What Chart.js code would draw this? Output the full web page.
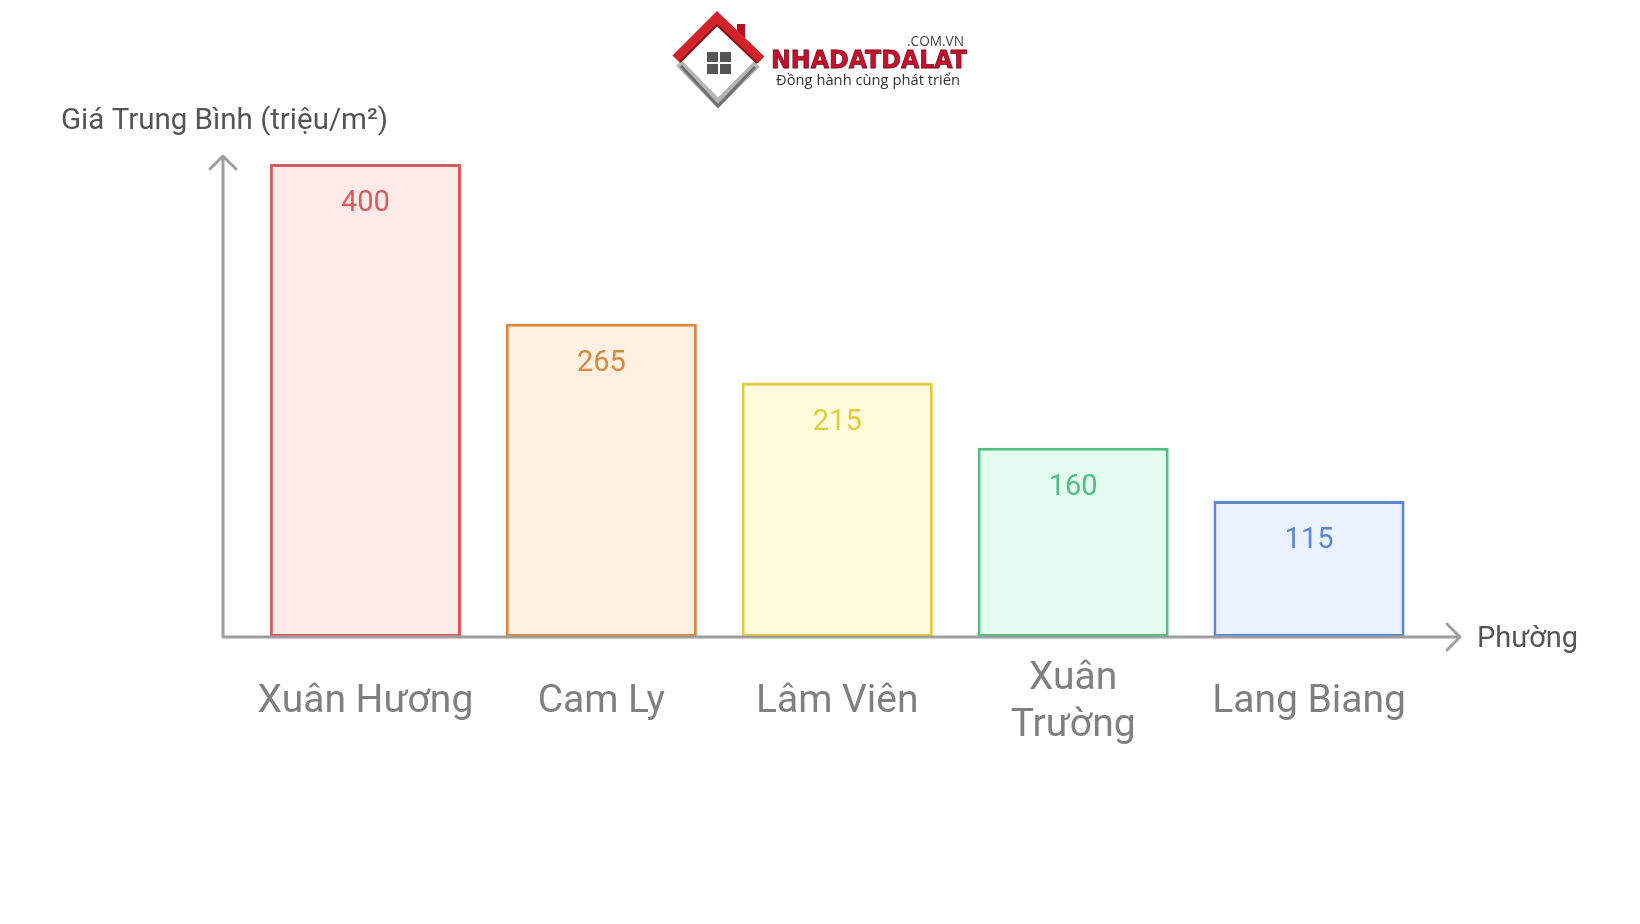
<!DOCTYPE html>
<html>
<head>
<meta charset="utf-8">
<script src="https://cdn.jsdelivr.net/npm/chart.js@4.4.1/dist/chart.umd.min.js"></script>
<style>
  html, body { margin: 0; padding: 0; background: #ffffff; }
  #wrap { position: relative; width: 1640px; height: 924px; overflow: hidden; }
  #c { position: absolute; left: 0; top: 0; }
  #logo { position: absolute; left: 0; top: 0; }
</style>
</head>
<body>
<div id="wrap">
  <canvas id="c" width="1640" height="924"></canvas>
  <svg id="logo" width="1640" height="130" viewBox="0 0 1640 130" xmlns="http://www.w3.org/2000/svg">
    <!-- diamond house logo -->
    <polygon points="717,18 760,60 718,104 676,60" fill="#ffffff"/>
    <polyline points="679,63 718,103 757,64" fill="none" stroke="#b5b5b5" stroke-width="8" stroke-linejoin="miter"/>
    <polyline points="681,66 718,106 755,67" fill="none" stroke="#6f6f6f" stroke-width="3" stroke-linejoin="miter"/>
    <rect x="737" y="24" width="8" height="16" fill="#b5121b"/>
    <polyline points="676,59 717,18 761,60" fill="none" stroke="#d2232a" stroke-width="10" stroke-linejoin="miter"/>
    <polyline points="680,62 717,25 757,63" fill="none" stroke="#8e0f14" stroke-width="2" stroke-linejoin="miter"/>
    <rect x="707" y="52" width="11" height="10" fill="#555"/>
    <rect x="720" y="52" width="11" height="10" fill="#555"/>
    <rect x="707" y="64" width="11" height="10" fill="#555"/>
    <rect x="720" y="64" width="11" height="10" fill="#555"/>
    <text x="907" y="46" font-family="Open Sans, Roboto, sans-serif" font-size="14" fill="#444" textLength="57" lengthAdjust="spacingAndGlyphs">.COM.VN</text>
    <text x="771" y="68" font-family="DejaVu Sans, sans-serif" font-weight="bold" font-size="25" fill="#c8102e" stroke="#7a0a12" stroke-width="0.8" textLength="196" lengthAdjust="spacingAndGlyphs">NHADATDALAT</text>
    <text x="776" y="85" font-family="Open Sans, Roboto, sans-serif" font-size="15" fill="#333" textLength="184" lengthAdjust="spacingAndGlyphs">Đồng hành cùng phát triển</text>
  </svg>
</div>
<script>
// ---- data ----
const categories = ['Xuân Hương', 'Cam Ly', 'Lâm Viên', ['Xuân', 'Trường'], 'Lang Biang'];
const values = [400, 265, 215, 160, 115];
const borderColors = ['#d95c5c', '#d98a3e', '#e3cc34', '#4fbf85', '#5b87d6'];
const fillColors = ['#ffeaea', '#fff0e2', '#fffbdc', '#e3fcef', '#eaf2ff'];
const yAxisTitle = 'Giá Trung Bình (triệu/m²)';
const xAxisTitle = 'Phường';

Chart.defaults.font.family = 'Roboto, "Noto Sans", sans-serif';

const axesPlugin = {
  id: 'arrowAxes',
  afterDatasetsDraw(chart) {
    const { ctx, chartArea: a, scales: { y } } = chart;
    const x0 = a.left - 24.5;
    const y0 = y.getPixelForValue(0);
    const topY = a.top - 8;
    const rightX = a.right + 33;
    ctx.save();
    ctx.strokeStyle = '#9e9e9e';
    ctx.lineWidth = 3;
    ctx.lineCap = 'round';
    ctx.lineJoin = 'round';
    ctx.beginPath();
    ctx.moveTo(x0, y0); ctx.lineTo(x0, topY);
    ctx.moveTo(x0 - 13, topY + 13); ctx.lineTo(x0, topY); ctx.lineTo(x0 + 13, topY + 13);
    ctx.moveTo(x0, y0); ctx.lineTo(rightX, y0);
    ctx.moveTo(rightX - 13, y0 - 13); ctx.lineTo(rightX, y0); ctx.lineTo(rightX - 13, y0 + 13);
    ctx.stroke();

    // x axis name
    ctx.fillStyle = '#555555';
    ctx.font = '29px Roboto, sans-serif';
    ctx.textAlign = 'left';
    ctx.textBaseline = 'middle';
    ctx.fillText(xAxisTitle, rightX + 17, y0 + 3);

    // value labels
    const meta = chart.getDatasetMeta(0);
    ctx.textAlign = 'center';
    meta.data.forEach((bar, i) => {
      ctx.fillStyle = borderColors[i];
      ctx.fillText(String(values[i]), bar.x, bar.y + 40);
    });
    ctx.restore();
  }
};

new Chart(document.getElementById('c'), {
  type: 'bar',
  data: {
    labels: categories,
    datasets: [{
      data: values,
      backgroundColor: fillColors,
      borderColor: borderColors,
      borderWidth: 3,
      borderSkipped: false,
      barPercentage: 0.81,
      categoryPercentage: 1.0
    }]
  },
  options: {
    responsive: false,
    animation: false,
    devicePixelRatio: 1,
    layout: { padding: { left: 61, right: 213, top: 0, bottom: 0 } },
    plugins: {
      legend: { display: false },
      tooltip: { enabled: false },
      title: {
        display: true,
        text: yAxisTitle,
        align: 'start',
        color: '#555555',
        font: { size: 29.5, weight: 'normal', lineHeight: 1.2 },
        padding: { top: 104, bottom: 24.6 }
      }
    },
    scales: {
      x: {
        grid: { display: false, drawTicks: false },
        border: { display: false },
        ticks: {
          color: '#808080',
          font: { size: 39, lineHeight: 1.2 },
          padding: 42,
          crossAlign: 'center',
          maxRotation: 0,
          autoSkip: false
        },
        afterFit(scale) { scale.height = 287; }
      },
      y: {
        min: 0,
        max: 400,
        grid: { display: false, drawTicks: false },
        border: { display: false },
        ticks: { display: false },
        afterFit(scale) { scale.width = 186.5; }
      }
    }
  },
  plugins: [axesPlugin]
});
</script>
</body>
</html>
